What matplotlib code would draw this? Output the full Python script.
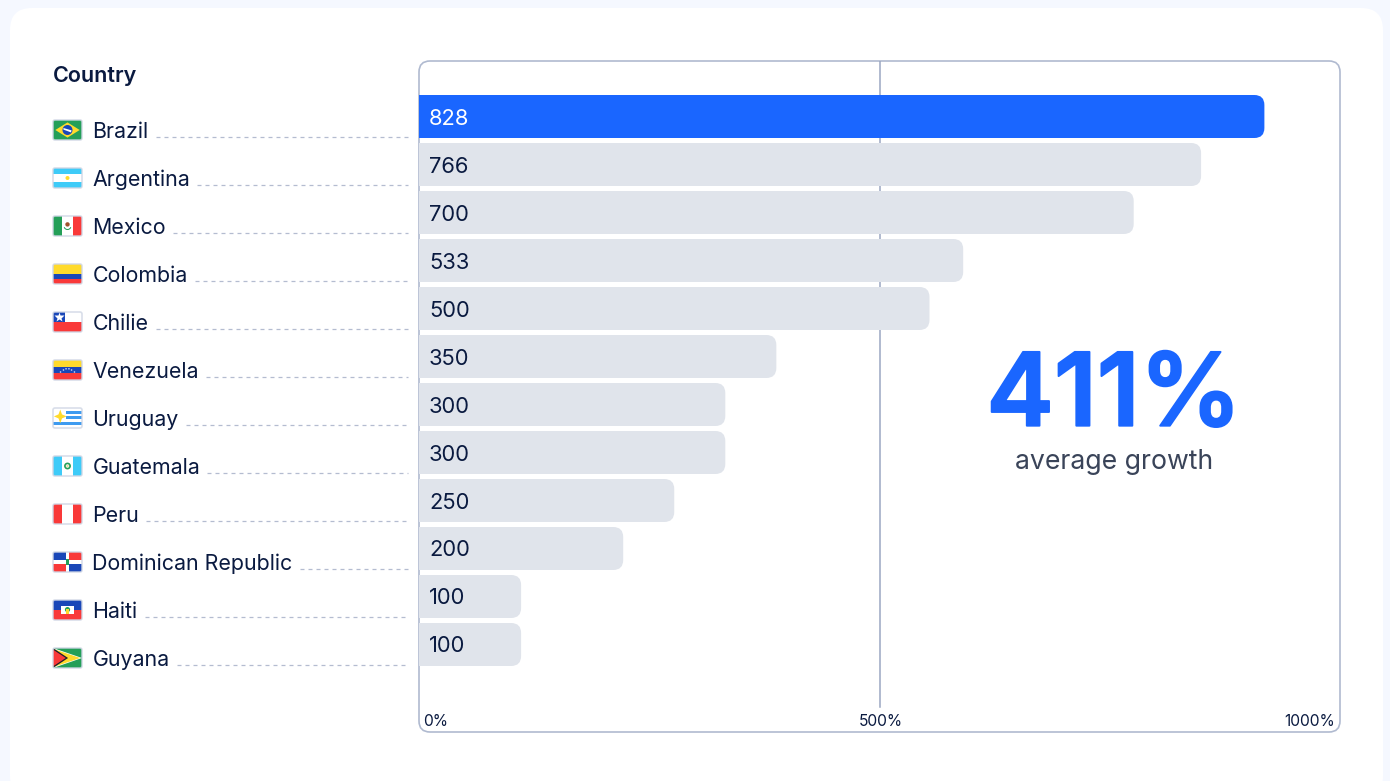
import matplotlib
matplotlib.use("Agg")
import matplotlib.pyplot as plt
import matplotlib.patheffects as pe
from matplotlib.patches import FancyBboxPatch, Rectangle, Circle, Polygon, Wedge

countries = ['Brazil', 'Argentina', 'Mexico', 'Colombia', 'Chilie', 'Venezuela',
             'Uruguay', 'Guatemala', 'Peru', 'Dominican Republic', 'Haiti', 'Guyana']
growth = [828, 766, 700, 533, 500, 350, 300, 300, 250, 200, 100, 100]
pct_ticks = [0, 500, 1000]
pct_labels = ['0%', '500%', '1000%']
average = '411%'

W, H = 1390, 781
BLUE = '#1A66FF'
GREY = '#E0E4EB'
INK = '#0A1A40'
FRAME = '#B0BAD0'
RULE = '#9BA7C2'

# flag palette
RED = '#F93939'
NAVY = '#1A47B8'
GREEN = '#249F58'
YELLOW = '#FFDA2C'
SKY = '#3ECBF8'

plt.rcParams['font.family'] = ['Inter', 'DejaVu Sans']

fig = plt.figure(figsize=(W / 100, H / 100), dpi=100, facecolor='#F5F8FF')


def rect_px(x0, y0, x1, y1):
    return [x0 / W, 1 - y1 / H, (x1 - x0) / W, (y1 - y0) / H]


# pixel-space layer for the card, the list on the left and the frame
page = fig.add_axes([0, 0, 1, 1], zorder=0)
page.set_xlim(0, W)
page.set_ylim(H, 0)
page.axis('off')

page.add_patch(FancyBboxPatch((10, 8), 1373, 790, boxstyle='round,pad=0,rounding_size=22',
                              fc='white', ec='none'))
page.add_patch(FancyBboxPatch((419, 61), 921, 671, boxstyle='round,pad=0,rounding_size=11',
                              fc='white', ec=FRAME, lw=1.2))

# percent scale, sits under the bars
L, T, R, B = 419, 61, 1340, 732
ax_pct = fig.add_axes(rect_px(L, T, R, B), zorder=1)
ax_pct.set_xlim(pct_ticks[0], pct_ticks[-1])
ax_pct.axis('off')
ax_pct.axvline(pct_ticks[1], ymin=25 / 671, ymax=1, color=RULE, lw=1.1)
for tick, lab, ha, dx in zip(pct_ticks, pct_labels, ['left', 'center', 'right'], [4, 1, -5]):
    ax_pct.annotate(lab, xy=(tick, 0), xycoords=('data', 'axes fraction'),
                    xytext=(dx, 11), textcoords='offset pixels',
                    ha=ha, va='center', fontsize=11.2, color=INK)

# bars
ax = fig.add_axes(rect_px(L, T, R, B), zorder=2)
ax.patch.set_alpha(0)
ax.axis('off')
px_per_unit = 1.021
row_px = 48
ax.set_xlim(0, (R - L) / px_per_unit)
ax.set_ylim((B - 116.5) / row_px, (T - 116.5) / row_px)

radius = 10 / px_per_unit
for i, v in enumerate(growth):
    bar = FancyBboxPatch((-radius, i - 21.5 / row_px), v + radius, 43 / row_px,
                         boxstyle='round,pad=0,rounding_size=%f' % radius,
                         mutation_aspect=px_per_unit / row_px,
                         fc=BLUE if i == 0 else GREY, ec='none')
    ax.add_patch(bar)
    ax.annotate(str(v), xy=(0, i), xytext=(10, 0), textcoords='offset pixels',
                va='center_baseline', fontsize=15.8,
                color='white' if i == 0 else INK)

ax.annotate(average, xy=(0.7546, 0.496), xycoords='axes fraction', ha='center', va='center',
            fontsize=73, fontweight='semibold', color=BLUE,
            path_effects=[pe.withStroke(linewidth=1.4, foreground=BLUE)])
ax.annotate('average growth', xy=(0.7546, 0.402), xycoords='axes fraction', ha='center', va='center',
            fontsize=19.2, color='#3A4459')

# flags
FX0, FX1 = 53, 82
FH = 20


def draw_flag(name, cy):
    y0 = cy - FH / 2
    fw = FX1 - FX0

    def P(u, v):
        return (FX0 + u * fw, y0 + v * FH)

    clip = FancyBboxPatch((FX0, y0), fw, FH, boxstyle='round,pad=0,rounding_size=2',
                          fc='white', ec='none', zorder=3)
    page.add_patch(clip)
    items = []

    def box(u0, v0, u1, v1, c):
        items.append(Rectangle(P(u0, v0), (u1 - u0) * fw, (v1 - v0) * FH, fc=c, ec='none'))

    def poly(pts, c):
        items.append(Polygon([P(*p) for p in pts], closed=True, fc=c, ec='none'))

    def dot(u, v, r, c):
        items.append(Circle(P(u, v), r, fc=c, ec='none'))

    if name == 'Brazil':
        box(0, 0, 1, 1, GREEN)
        poly([(.5, .12), (.92, .5), (.5, .88), (.08, .5)], YELLOW)
        dot(.5, .5, 5, NAVY)
        poly([(.36, .4), (.64, .52), (.62, .62), (.36, .48)], 'white')
    elif name == 'Argentina':
        box(0, 0, 1, .3, SKY)
        box(0, .7, 1, 1, SKY)
        dot(.5, .5, 2, YELLOW)
    elif name == 'Mexico':
        box(0, 0, .3, 1, GREEN)
        box(.7, 0, 1, 1, RED)
        dot(.5, .42, 2.2, '#A0522D')
        items.append(Wedge(P(.5, .5), 4, 20, 160, width=1, fc=GREEN, ec='none'))
    elif name == 'Colombia':
        box(0, 0, 1, .5, YELLOW)
        box(0, .5, 1, .75, NAVY)
        box(0, .75, 1, 1, RED)
    elif name == 'Chilie':
        box(0, .5, 1, 1, RED)
        box(0, 0, .4, .5, NAVY)
        page.plot(*P(.2, .25), marker='*', ms=7, mfc='white', mec='none', zorder=5)
    elif name == 'Venezuela':
        box(0, 0, 1, .33, YELLOW)
        box(0, .33, 1, .67, NAVY)
        box(0, .67, 1, 1, RED)
        for u, v in [(.26, .6), (.36, .5), (.45, .44), (.55, .44), (.64, .5), (.74, .6)]:
            dot(u, v, .8, '#C8D4F4')
    elif name == 'Uruguay':
        for v0 in [.14, .42, .72]:
            box(.45 if v0 < .5 else 0, v0, 1, v0 + .15, '#3E9BF0')
        poly([(.25, .08), (.31, .32), (.47, .42), (.31, .52), (.25, .76), (.19, .52), (.03, .42), (.19, .32)], YELLOW)
    elif name == 'Guatemala':
        box(0, 0, .3, 1, SKY)
        box(.7, 0, 1, 1, SKY)
        items.append(Circle(P(.5, .5), 2.6, fc='none', ec=GREEN, lw=1.2))
        dot(.5, .5, 1.2, '#E8D9A0')
    elif name == 'Peru':
        box(0, 0, .3, 1, RED)
        box(.7, 0, 1, 1, RED)
    elif name == 'Dominican Republic':
        box(0, 0, .44, .42, NAVY)
        box(.56, 0, 1, .42, RED)
        box(0, .58, .44, 1, RED)
        box(.56, .58, 1, 1, NAVY)
        box(.44, .34, .56, .66, GREEN)
    elif name == 'Haiti':
        box(0, 0, 1, .5, NAVY)
        box(0, .5, 1, 1, RED)
        box(.28, .28, .72, .72, 'white')
        dot(.5, .48, 2.6, GREEN)
        box(.44, .46, .56, .72, YELLOW)
    elif name == 'Guyana':
        box(0, 0, 1, 1, GREEN)
        poly([(0, 0), (1, .5), (0, 1)], 'white')
        poly([(0, .04), (.94, .5), (0, .96)], YELLOW)
        poly([(0, 0), (.52, .5), (0, 1)], '#1F1F2B')
        poly([(0, .08), (.44, .5), (0, .92)], RED)

    for it in items:
        it.set_zorder(4)
        page.add_patch(it)
        it.set_clip_path(clip)
    page.add_patch(FancyBboxPatch((FX0, y0), fw, FH, boxstyle='round,pad=0,rounding_size=2',
                                  fc='none', ec='#CFD6E4', lw=1.2, alpha=0.8, zorder=6))


page.text(53, 76, 'Country', fontsize=15.5, fontweight='semibold', color=INK, va='center')
fig.canvas.draw()
rend = fig.canvas.get_renderer()
for i, c in enumerate(countries):
    y = 130 + row_px * i
    draw_flag(c, y)
    t = page.text(92.5, y, c, fontsize=15.4, color=INK, va='center_baseline')
    bb = t.get_window_extent(rend)
    # dashed leader from the end of the name to the chart
    page.plot([bb.x1 + 7, 408], [y + 7, y + 7], color='#B4BCD0', lw=0.9, dashes=(3.2, 3.2), solid_capstyle='butt')

page.set_xlim(0, W)
page.set_ylim(H, 0)

fig.savefig('out.png', dpi=100, facecolor=fig.get_facecolor())
